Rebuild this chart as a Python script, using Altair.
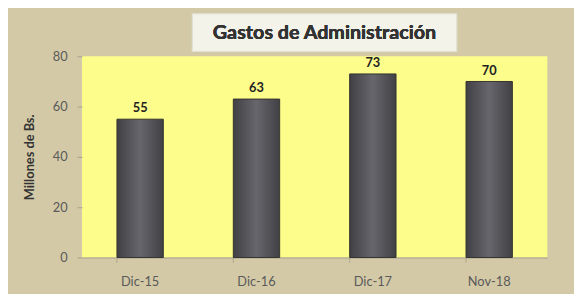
import altair as alt
import pandas as pd

periods = ["Dic-15", "Dic-16", "Dic-17", "Nov-18"]
values = [55, 63, 73, 70]

df = pd.DataFrame({"periodo": periods, "valor": values})

FONT = "Lato"
TAN = "#d3c9a6"
YELLOW = "#fdfd8c"

base = alt.Chart(df)

x_enc = alt.X("periodo:N", sort=periods, title=None,
              scale=alt.Scale(paddingInner=0.6, paddingOuter=0.3),
              axis=alt.Axis(labelAngle=0, labelColor="#5a5a5a", labelFontSize=13,
                            labelFont=FONT, labelPadding=13, tickColor="#b0a888",
                            tickSize=5, domainColor="#a8a290", ticks=True,
                            bandPosition=0))
y_enc = alt.Y("valor:Q", title="Millones de Bs.",
              scale=alt.Scale(domain=[0, 80]),
              axis=alt.Axis(values=[0, 20, 40, 60, 80], grid=False, domain=False,
                            labelColor="#5a5a5a", labelFontSize=13, labelFont=FONT,
                            labelPadding=10, tickColor="#a8a290", tickSize=5,
                            titleFont=FONT, titleFontSize=13, titleFontWeight="bold",
                            titleColor="#333333", titlePadding=16))

bars = base.mark_bar(
    size=47,
    color=alt.LinearGradient(
        gradient="linear", x1=0, x2=1, y1=0, y2=0,
        stops=[alt.GradientStop(offset=0, color="#404045"),
               alt.GradientStop(offset=0.5, color="#66666c"),
               alt.GradientStop(offset=1, color="#404045")]),
    stroke="#34342f", strokeWidth=1,
).encode(x=x_enc, y=y_enc)

labels = base.mark_text(dy=-11, font=FONT, fontSize=13, fontWeight="bold",
                        color="#222222").encode(
    x=alt.X("periodo:N", sort=periods), y="valor:Q", text="valor:Q")

title_box = base.mark_rect(color="#f3f3ea", stroke="#e0e0d0").encode(
    x=alt.value(112), x2=alt.value(380), y=alt.value(-43), y2=alt.value(-5))

title_text = base.mark_text(font=FONT, fontSize=20, fontWeight="bold",
                            color="#333333").encode(
    x=alt.value(246), y=alt.value(-24), text=alt.value("Gastos de Administración"))

chart = alt.layer(title_box, bars, labels, title_text).properties(
    width=472, height=204,
    padding={"left": 75, "top": 47, "right": 27, "bottom": 35},
    autosize=alt.AutoSizeParams(type="none"),
    background=TAN,
).configure_view(fill=YELLOW, stroke=None)

chart.save("out.html", embed_options={"renderer": "svg", "actions": False})
